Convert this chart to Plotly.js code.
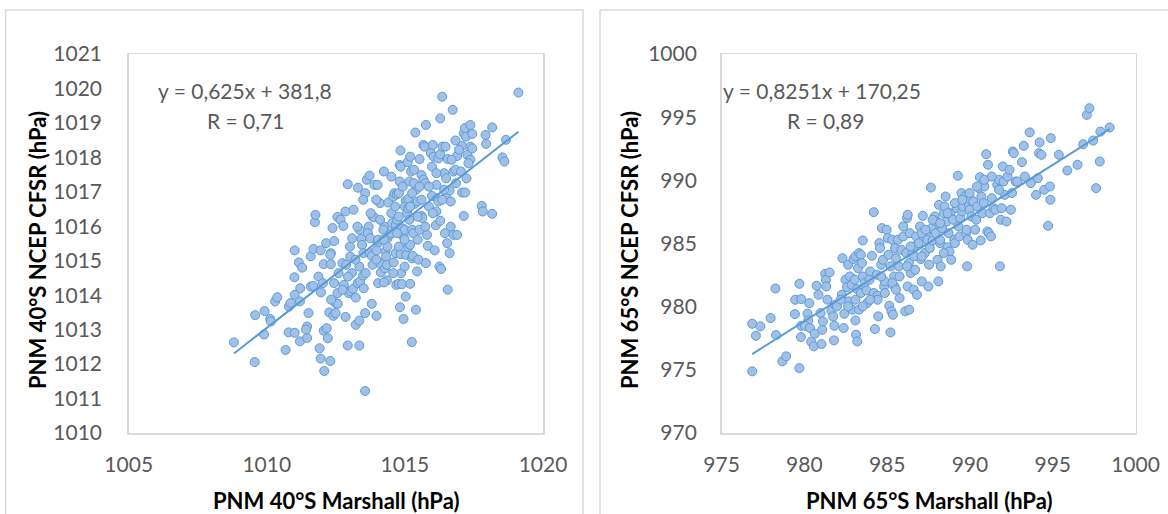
<!DOCTYPE html>
<html>
<head>
<meta charset="utf-8">
<script src="https://cdn.plot.ly/plotly-3.0.1.min.js"></script>
<style>
html,body{margin:0;padding:0;background:#fff;}
#chart{width:1168px;height:514px;}
</style>
</head>
<body>
<div id="chart"></div>
<script>
// ---- Left panel: PNM 40°S ----
const marshall40 = [
1008.81,1009.56,1009.58,1009.92,1009.90,1010.12,1010.15,1010.30,1010.38,1010.68,
1010.79,1011.01,1010.80,1010.86,1011.01,1011.00,1011.20,1011.46,1011.46,1011.42,
1011.20,1011.21,1011.16,1011.28,1011.01,1011.51,1011.59,1011.69,1011.74,1011.76,
1011.87,1011.95,1011.59,1011.68,1011.91,1011.95,1012.08,1012.30,1011.96,1012.06,
1012.17,1012.21,1012.06,1012.03,1012.15,1012.26,1012.41,1012.49,1012.32,1012.32,
1012.30,1012.38,1012.44,1012.49,1012.57,1012.56,1012.44,1012.60,1012.74,1012.56,
1012.67,1012.85,1012.79,1012.87,1012.93,1012.93,1012.85,1012.77,1012.97,1013.04,
1013.12,1013.01,1013.02,1013.09,1013.14,1013.22,1013.35,1013.22,1013.29,1013.38,
1013.30,1013.35,1013.35,1013.28,1013.42,1013.45,1013.51,1013.49,1013.56,1013.56,
1013.58,1013.50,1013.56,1013.62,1013.72,1013.69,1013.66,1013.75,1013.73,1013.80,
1013.80,1013.83,1013.88,1013.83,1013.97,1013.90,1014.01,1014.01,1013.97,1014.10,
1014.03,1014.03,1014.13,1014.10,1014.24,1014.26,1014.22,1014.30,1014.32,1014.28,
1014.35,1014.35,1014.24,1014.40,1014.37,1014.44,1014.51,1014.51,1014.54,1014.58,
1014.62,1014.59,1014.67,1014.69,1014.78,1014.90,1014.67,1014.71,1014.78,1014.71,
1014.81,1014.84,1014.81,1014.85,1014.82,1014.86,1014.85,1014.95,1014.92,1014.95,
1014.99,1015.03,1015.05,1015.12,1015.19,1015.03,1015.00,1015.12,1015.08,1015.12,
1015.10,1015.19,1015.16,1015.22,1015.19,1015.25,1015.26,1015.29,1015.26,1015.30,
1015.33,1015.40,1015.38,1015.40,1015.35,1015.46,1015.44,1015.49,1015.46,1015.53,
1015.53,1015.60,1015.60,1015.63,1015.67,1015.71,1015.67,1015.74,1015.76,1015.76,
1015.80,1015.83,1015.87,1015.94,1015.98,1015.98,1016.01,1016.04,1016.08,1016.12,
1016.14,1016.17,1016.14,1016.21,1016.21,1016.28,1016.25,1016.31,1016.28,1016.35,
1016.28,1016.36,1016.47,1016.42,1016.49,1016.45,1016.49,1016.55,1016.53,1016.62,
1016.55,1016.62,1016.66,1016.66,1016.76,1016.73,1016.76,1016.83,1016.83,1016.85,
1016.89,1016.89,1017.03,1017.07,1017.18,1017.07,1017.13,1017.21,1017.13,1017.17,
1017.23,1017.26,1017.37,1017.30,1017.37,1017.37,1017.44,1017.44,1017.78,1017.82,
1017.92,1017.94,1018.16,1018.16,1018.53,1018.60,1018.66,1019.11,
1015.33,1014.78,1014.92,1014.65,1014.51,1014.37,1014.10,1013.76,1013.49,1013.96,
1015.60,1015.87,1016.42,1016.69,1016.96,1015.46,1014.99,1015.19,1014.24,1014.78,
1013.97,1013.35,1013.21,1013.08,1012.94,1012.74,1012.33,1014.58,1014.99,1015.74,
1016.01,1016.14,1016.35,1015.26,1015.53,1015.16,1014.72
];
const cfsr40 = [
1012.63,1012.06,1013.42,1013.54,1012.86,1013.31,1013.24,1013.82,1013.94,1012.41,
1012.92,1012.91,1013.67,1013.77,1014.01,1014.52,1012.66,1012.76,1013.09,1013.00,
1013.82,1014.20,1014.95,1014.80,1015.30,1013.48,1015.13,1015.34,1016.12,1016.33,
1014.54,1015.30,1014.25,1014.27,1012.46,1012.16,1011.80,1012.09,1014.08,1012.97,
1013.04,1012.75,1014.90,1014.35,1015.51,1013.50,1013.40,1013.48,1014.90,1015.22,
1015.17,1015.95,1015.57,1013.77,1013.75,1014.06,1014.35,1014.64,1014.93,1016.27,
1016.19,1013.37,1014.30,1014.88,1012.54,1017.22,1016.43,1016.01,1014.06,1014.11,
1014.18,1015.41,1015.12,1015.65,1016.48,1013.14,1013.26,1013.93,1014.35,1014.40,
1017.12,1012.54,1015.90,1015.99,1015.63,1015.46,1014.20,1014.57,1011.22,1013.48,
1014.64,1015.22,1016.96,1017.35,1017.47,1015.99,1015.80,1015.65,1015.22,1015.14,
1013.75,1016.28,1016.26,1014.88,1013.40,1017.20,1017.20,1015.51,1015.30,1016.67,
1015.61,1014.35,1014.66,1014.93,1017.59,1015.99,1015.90,1015.27,1015.12,1014.78,
1014.88,1014.43,1014.37,1016.69,1015.65,1015.75,1017.44,1016.38,1016.09,1016.86,
1016.96,1014.95,1015.22,1014.30,1014.33,1014.32,1016.04,1016.19,1016.28,1016.93,
1017.30,1018.20,1017.78,1017.73,1013.65,1014.64,1015.19,1013.31,1015.94,1015.70,
1015.90,1013.96,1015.17,1015.39,1015.46,1016.74,1016.57,1016.79,1016.38,1016.52,
1017.86,1018.02,1017.30,1017.59,1014.33,1012.64,1015.07,1015.14,1015.90,1015.80,
1017.64,1013.58,1018.72,1017.06,1016.65,1016.72,1014.69,1015.03,1015.61,1015.90,
1017.95,1017.49,1016.30,1016.24,1018.36,1018.31,1017.35,1017.25,1018.94,1014.93,
1015.75,1015.43,1016.57,1018.12,1017.73,1016.88,1018.36,1018.02,1015.30,1016.03,
1017.20,1016.81,1016.43,1016.72,1017.97,1018.09,1014.83,1014.76,1019.13,1019.76,
1016.16,1018.31,1018.31,1017.54,1017.39,1015.80,1016.86,1017.95,1015.51,1015.22,
1014.16,1017.04,1016.72,1015.99,1015.75,1019.38,1017.59,1017.64,1018.49,1017.25,
1015.75,1018.04,1017.59,1016.98,1016.98,1018.33,1018.70,1018.60,1016.30,1018.85,
1017.39,1018.07,1017.93,1017.83,1018.31,1018.94,1018.68,1018.26,1016.59,1016.43,
1018.65,1018.39,1018.87,1016.36,1018.00,1017.88,1018.51,1019.88,
1017.25,1016.96,1017.15,1016.57,1015.80,1015.41,1016.19,1016.38,1016.77,1016.77,
1016.77,1017.15,1017.06,1017.93,1018.22,1016.28,1015.61,1016.57,1015.61,1015.41,
1015.03,1014.83,1015.03,1014.64,1014.54,1014.16,1013.87,1014.64,1014.83,1015.99,
1016.38,1017.54,1016.77,1016.96,1017.15,1016.19,1015.80
];
const slope40 = 0.625, intercept40 = 381.8;
const eq40 = "y = 0,625x + 381,8", r40 = "R = 0,71";

// ---- Right panel: PNM 65°S ----
const marshall65 = [
976.85,976.85,977.07,977.34,977.96,978.25,978.29,978.67,978.90,979.43,
979.45,979.70,979.81,979.79,979.70,979.81,980.19,980.23,980.30,980.03,
980.34,980.41,980.57,980.63,980.74,980.85,980.97,981.03,981.08,981.12,
981.26,981.30,981.32,981.39,981.52,981.63,981.74,981.81,981.79,981.86,
981.97,982.26,982.30,982.37,982.41,982.48,982.57,982.64,982.70,982.75,
982.86,982.90,983.04,983.08,983.12,983.19,983.30,982.97,983.08,983.24,
983.30,983.41,983.48,983.53,983.19,983.41,983.53,983.64,983.75,983.79,
983.93,983.97,984.08,984.19,984.19,984.26,984.37,984.42,984.46,984.53,
984.57,984.64,984.68,984.75,984.82,984.86,984.97,985.04,985.08,985.13,
985.20,985.22,985.26,985.31,985.35,985.42,985.44,985.48,985.53,985.64,
985.71,985.75,985.86,985.97,986.09,986.15,986.20,986.24,986.31,986.24,
986.33,986.37,986.42,986.53,986.60,986.64,986.69,986.75,986.80,986.91,
986.98,987.04,987.09,987.15,987.20,987.27,987.35,987.42,987.49,987.53,
987.58,987.64,987.69,987.75,987.87,987.93,987.98,988.04,988.09,988.13,
988.20,988.24,988.31,988.42,988.47,988.53,988.60,988.65,988.71,988.76,
988.82,988.87,988.98,989.05,989.09,989.20,989.27,989.31,989.36,989.42,
989.49,989.54,989.58,989.71,989.76,989.80,989.83,989.87,989.94,989.98,
990.05,990.09,990.16,990.20,990.31,990.38,990.43,990.54,990.60,990.65,
990.69,990.76,990.83,990.87,990.98,991.05,991.09,991.14,991.21,991.27,
991.32,991.43,991.54,991.65,991.76,991.81,991.87,991.92,991.98,992.03,
992.10,992.21,992.27,992.39,992.47,992.54,992.59,992.65,992.76,992.87,
993.14,993.25,993.32,993.61,993.68,993.99,994.10,994.17,994.21,994.32,
994.48,994.72,994.83,994.86,994.88,995.37,995.88,996.50,996.84,997.06,
997.22,997.44,997.62,997.84,997.88,998.44,
987.09,986.64,986.20,985.75,985.31,984.86,984.42,983.97,983.53,983.08,
982.64,982.19,985.97,986.42,987.31,987.75,988.20,988.65,989.09,989.54,
989.98,990.43,990.87,991.32,991.76,988.20,988.42,987.09,985.53,984.64
];
const cfsr65 = [
974.88,978.65,977.70,978.44,979.10,981.44,977.75,975.67,976.07,979.41,
980.55,981.81,980.60,977.59,975.14,978.49,979.44,978.91,980.28,978.49,
978.31,977.23,976.86,977.86,981.66,980.94,979.49,977.04,978.17,978.83,
982.60,982.13,981.60,980.55,982.71,979.68,979.23,978.49,977.33,980.15,
980.02,980.94,983.84,978.31,979.44,982.13,981.55,983.32,980.42,982.39,
981.73,979.76,982.13,978.91,977.78,977.25,979.76,983.77,983.98,983.05,
984.24,984.11,983.45,985.24,981.39,981.08,982.39,981.87,981.29,980.28,
982.13,982.79,984.03,981.08,987.48,978.23,982.53,980.86,979.23,985.03,
984.64,983.32,986.22,983.71,981.60,982.00,986.09,985.43,984.11,980.07,
977.96,983.19,979.63,985.29,979.36,982.39,981.60,984.64,983.84,985.29,
983.19,980.68,984.50,985.56,979.63,984.24,987.01,987.27,983.45,981.60,
979.76,985.82,982.66,984.24,981.34,984.77,982.92,985.56,980.94,985.03,
986.35,983.77,982.00,987.19,985.56,984.24,985.82,985.29,981.60,983.32,
984.64,989.43,986.22,985.24,987.14,985.82,986.74,983.71,982.00,988.06,
985.03,983.19,986.22,987.40,987.93,988.72,986.74,984.71,985.82,984.37,
987.40,983.71,986.88,985.29,985.03,987.80,990.36,986.35,985.56,987.01,
988.99,987.54,987.93,988.72,985.82,986.09,983.19,985.29,988.06,987.67,
988.46,987.14,984.90,988.33,986.09,986.88,987.93,989.38,990.25,985.24,
988.72,987.40,988.20,989.51,992.07,985.95,991.23,985.82,987.40,985.56,
988.59,987.80,987.67,989.65,990.04,983.19,986.88,987.80,991.10,989.91,
988.85,986.74,990.30,990.83,987.67,988.99,992.28,992.15,989.91,989.91,
991.44,992.73,990.30,993.79,989.78,988.85,990.17,992.15,993.00,992.02,
989.25,986.40,989.51,988.46,993.34,992.02,990.78,991.23,992.86,995.18,
995.71,993.15,989.38,991.49,993.86,994.18,
985.82,983.98,983.19,982.39,981.87,981.08,980.55,980.55,980.02,980.55,
980.02,980.55,986.35,984.77,986.09,986.88,986.61,987.40,988.20,988.46,
988.99,989.51,990.04,990.30,989.25,985.29,984.24,983.98,981.34,982.39
];
const slope65 = 0.8251, intercept65 = 170.25;
const eq65 = "y = 0,8251x + 170,25", r65 = "R = 0,89";

const xTitle40 = "PNM 40°S Marshall (hPa)", yTitle40 = "PNM 40°S NCEP CFSR (hPa)";
const xTitle65 = "PNM 65°S Marshall (hPa)", yTitle65 = "PNM 65°S NCEP CFSR (hPa)";

// ---- styling ----
const W = 1168, H = 514;
const markerStyle = {symbol:'circle', size:9, color:'#a0c0e8', line:{color:'#5b9bd5', width:1}};
const lineStyle = {color:'#5b9bd5', width:2};
const tickFont = {family:'Lato, "Open Sans", sans-serif', size:21, color:'#595959'};
const eqFont = {family:'Lato, "Open Sans", sans-serif', size:21, color:'#595959'};
const titleFont = {family:'Lato, "Open Sans", sans-serif', size:22, color:'#000000', weight:'bold'};
const frameColor = '#d9d9d9';

function trend(xs, m, b){
  const lo = Math.min(...xs), hi = Math.max(...xs);
  return {x:[lo, hi], y:[m*lo + b, m*hi + b]};
}
const t40 = trend(marshall40, slope40, intercept40);
const t65 = trend(marshall65, slope65, intercept65);

const data = [
  {type:'scatter', mode:'markers', x:marshall40, y:cfsr40, xaxis:'x', yaxis:'y', marker:markerStyle, hoverinfo:'x+y'},
  {type:'scatter', mode:'lines', x:t40.x, y:t40.y, xaxis:'x', yaxis:'y', line:lineStyle, hoverinfo:'skip'},
  {type:'scatter', mode:'markers', x:marshall65, y:cfsr65, xaxis:'x2', yaxis:'y2', marker:markerStyle, hoverinfo:'x+y'},
  {type:'scatter', mode:'lines', x:t65.x, y:t65.y, xaxis:'x2', yaxis:'y2', line:lineStyle, hoverinfo:'skip'}
];

function axisCommon(){
  return {showgrid:false, zeroline:false, showline:true, mirror:true, linecolor:frameColor, linewidth:1.5,
          ticks:'outside', tickcolor:'rgba(0,0,0,0)', tickfont:tickFont, fixedrange:true};
}
const yDom = [1-433/H, 1-54/H];
const pL = [128.7, 543], pR = [721.6, 1135.5];
const layout = {
  width:W, height:H, margin:{l:0,r:0,t:0,b:0}, paper_bgcolor:'#ffffff', plot_bgcolor:'#ffffff',
  showlegend:false, font:{family:'Lato, sans-serif'},
  xaxis: Object.assign(axisCommon(), {domain:[pL[0]/W, pL[1]/W], range:[1005,1020], tick0:1005, dtick:5, anchor:'y', ticklen:12}),
  yaxis: Object.assign(axisCommon(), {domain:yDom, range:[1010,1021], tick0:1010, dtick:1, anchor:'x', ticklen:21}),
  xaxis2: Object.assign(axisCommon(), {domain:[pR[0]/W, pR[1]/W], range:[975,1000], tick0:975, dtick:5, anchor:'y2', ticklen:12}),
  yaxis2: Object.assign(axisCommon(), {domain:yDom, range:[970,1000], tick0:970, dtick:5, anchor:'x2', ticklen:19}),
  shapes: [
    {type:'rect', xref:'paper', yref:'paper', x0:5.6/W, x1:583/W, y0:-0.05, y1:1-10/H, line:{color:frameColor, width:1.5}, layer:'below'},
    {type:'rect', xref:'paper', yref:'paper', x0:600/W, x1:1.05, y0:-0.05, y1:1-10/H, line:{color:frameColor, width:1.5}, layer:'below'}
  ],
  annotations: [
    {xref:'paper', yref:'paper', x:245/W, y:1-90/H, text:eq40, showarrow:false, xanchor:'center', yanchor:'middle', font:eqFont},
    {xref:'paper', yref:'paper', x:245/W, y:1-120/H, text:r40, showarrow:false, xanchor:'center', yanchor:'middle', font:eqFont},
    {xref:'paper', yref:'paper', x:822/W, y:1-90/H, text:eq65, showarrow:false, xanchor:'center', yanchor:'middle', font:eqFont},
    {xref:'paper', yref:'paper', x:825/W, y:1-120/H, text:r65, showarrow:false, xanchor:'center', yanchor:'middle', font:eqFont},
    // axis titles
    {xref:'paper', yref:'paper', x:(pL[0]+pL[1])/2/W, y:1-500/H, text:'<b>'+xTitle40+'</b>', showarrow:false, xanchor:'center', yanchor:'middle', font:titleFont},
    {xref:'paper', yref:'paper', x:37/W, y:1-250/H, text:'<b>'+yTitle40+'</b>', textangle:-90, showarrow:false, xanchor:'center', yanchor:'middle', font:titleFont},
    {xref:'paper', yref:'paper', x:(pR[0]+pR[1])/2/W, y:1-500/H, text:'<b>'+xTitle65+'</b>', showarrow:false, xanchor:'center', yanchor:'middle', font:titleFont},
    {xref:'paper', yref:'paper', x:629/W, y:1-250/H, text:'<b>'+yTitle65+'</b>', textangle:-90, showarrow:false, xanchor:'center', yanchor:'middle', font:titleFont}
  ]
};
Plotly.newPlot('chart', data, layout, {displayModeBar:false, staticPlot:true});
</script>
</body>
</html>
